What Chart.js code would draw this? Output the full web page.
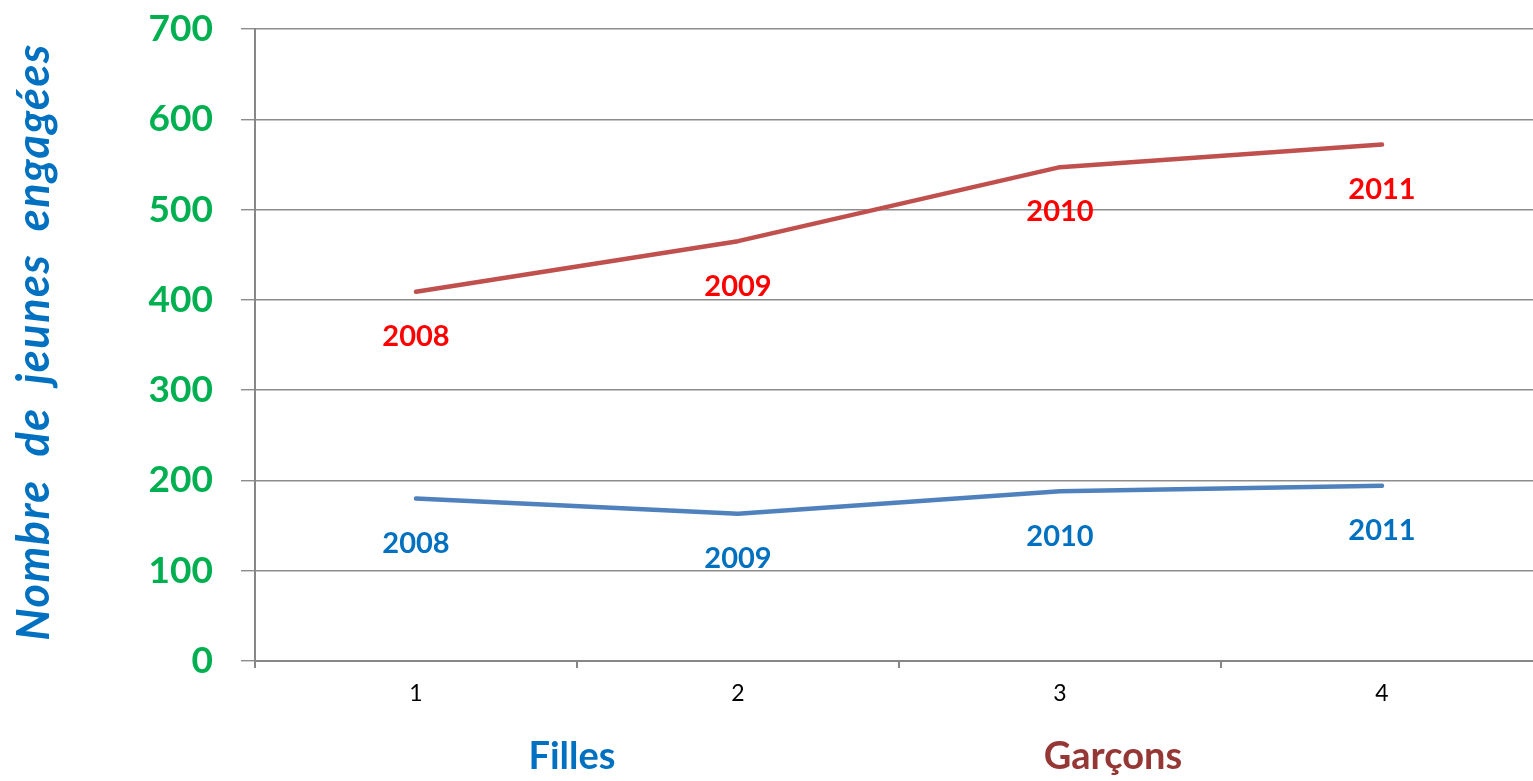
<!DOCTYPE html>
<html>
<head>
<meta charset="utf-8">
<script src="https://cdn.jsdelivr.net/npm/chart.js@4/dist/chart.umd.min.js"></script>
<style>
  html, body { margin: 0; padding: 0; overflow: hidden; background: #fff; }
  #wrap { position: absolute; left: 0; top: 0; width: 1550px; height: 781px; }
</style>
</head>
<body>
<div id="wrap"><canvas id="c"></canvas></div>
<script>
const categories = ['1', '2', '3', '4'];
const years = ['2008', '2009', '2010', '2011'];
const garcons = [409, 465, 547, 572];
const filles = [180, 163, 188, 194];
const yMax = 700;
const yStep = 100;
const yTitle = 'Nombre  de  jeunes  engagées';
const groupLabels = ['Filles', 'Garçons'];

const FONT = 'Lato, "Open Sans", sans-serif';

const labelsPlugin = {
  id: 'yearLabels',
  afterDatasetsDraw(chart) {
    const ctx = chart.ctx;
    ctx.save();
    ctx.font = 'bold 29px ' + FONT;
    ctx.textAlign = 'center';
    ctx.textBaseline = 'middle';
    chart.data.datasets.forEach((ds, i) => {
      const meta = chart.getDatasetMeta(i);
      ctx.fillStyle = ds.labelColor;
      meta.data.forEach((pt, j) => {
        ctx.fillText(years[j], pt.x, pt.y + 45);
      });
    });
    ctx.restore();
  }
};

const textPlugin = {
  id: 'extraText',
  afterDraw(chart) {
    const ctx = chart.ctx;
    ctx.save();
    ctx.translate(34, 342);
    ctx.rotate(-Math.PI / 2);
    ctx.font = 'italic bold 45px ' + FONT;
    try { ctx.letterSpacing = '1.5px'; } catch (e) {}
    ctx.fillStyle = '#0070C0';
    ctx.textAlign = 'center';
    ctx.textBaseline = 'middle';
    ctx.fillText(yTitle, 0, 0);
    ctx.restore();

    ctx.save();
    ctx.font = 'bold 38px ' + FONT;
    ctx.textAlign = 'center';
    ctx.textBaseline = 'middle';
    ctx.fillStyle = '#0070C0';
    ctx.fillText(groupLabels[0], 572, 757);
    ctx.fillStyle = '#953735';
    ctx.fillText(groupLabels[1], 1113, 757);
    ctx.restore();
  }
};

new Chart(document.getElementById('c'), {
  type: 'line',
  data: {
    labels: categories,
    datasets: [
      {
        label: 'Garçons',
        data: garcons,
        borderColor: '#C0504D',
        backgroundColor: '#C0504D',
        borderWidth: 4.5,
        borderCapStyle: 'round',
        borderJoinStyle: 'round',
        pointRadius: 0,
        tension: 0,
        labelColor: '#FF0000'
      },
      {
        label: 'Filles',
        data: filles,
        borderColor: '#4F81BD',
        backgroundColor: '#4F81BD',
        borderWidth: 4.5,
        borderCapStyle: 'round',
        borderJoinStyle: 'round',
        pointRadius: 0,
        tension: 0,
        labelColor: '#0070C0'
      }
    ]
  },
  options: {
    responsive: true,
    maintainAspectRatio: false,
    animation: false,
    layout: { padding: { top: 29, right: 7, bottom: 0, left: 0 } },
    plugins: { legend: { display: false }, tooltip: { enabled: false } },
    scales: {
      x: {
        offset: true,
        grid: {
          offset: true,
          drawOnChartArea: false,
          drawTicks: true,
          tickLength: 7,
          color: '#878787',
          lineWidth: 2
        },
        border: { color: '#878787', width: 2 },
        ticks: {
          color: '#000',
          font: { family: FONT, size: 23 },
          padding: 12,
          maxRotation: 0
        },
        afterFit(s) { s.height = 120; s.paddingLeft = 0; s.paddingRight = 0; }
      },
      y: {
        min: 0,
        max: yMax,
        ticks: {
          stepSize: yStep,
          color: '#00B050',
          font: { family: FONT, size: 37, weight: 'bold' },
          padding: 28
        },
        grid: {
          color: '#8C8C8C',
          lineWidth: 1.4,
          tickLength: 14
        },
        border: { color: '#878787', width: 2 },
        afterFit(s) { s.width = 255; s.paddingTop = 0; s.paddingBottom = 0; }
      }
    }
  },
  plugins: [labelsPlugin, textPlugin]
});
</script>
</body>
</html>
